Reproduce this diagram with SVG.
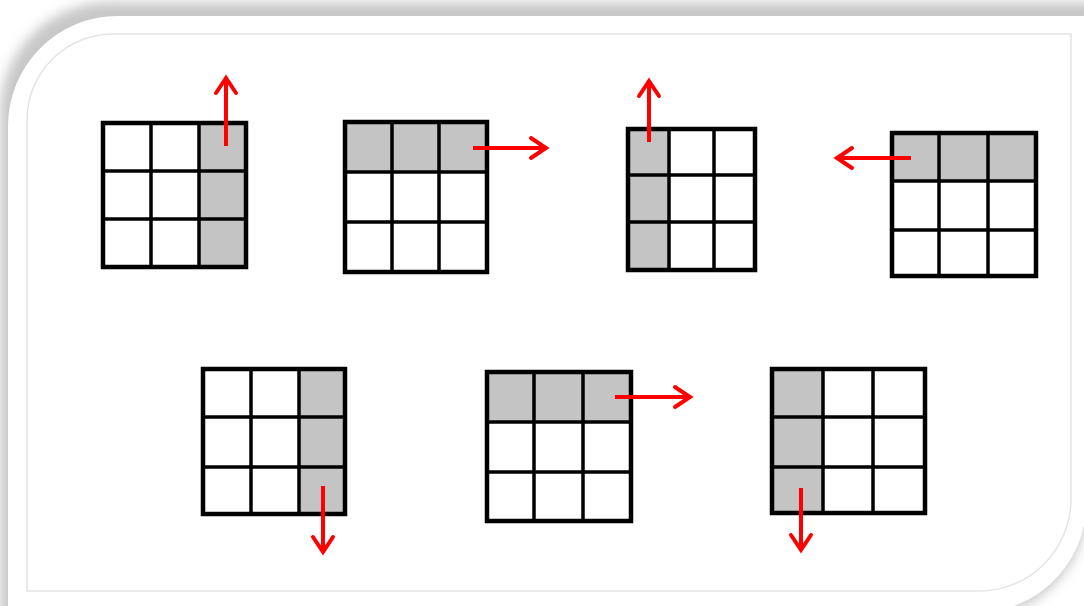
<svg xmlns="http://www.w3.org/2000/svg" width="1084" height="606" viewBox="0 0 1084 606">
  <defs>
    <filter id="blur" x="-10%" y="-10%" width="120%" height="120%">
      <feGaussianBlur stdDeviation="6"/>
    </filter>
    <marker id="head" markerUnits="userSpaceOnUse" markerWidth="30" markerHeight="30" viewBox="-20 -15 30 30" refX="0" refY="0" orient="auto">
      <path d="M -15,-10 L 0,0 L -15,10" fill="none" stroke="#ff0000" stroke-width="4" stroke-linejoin="miter" stroke-linecap="round"/>
    </marker>
  </defs>
  <style>
    .shade { fill: #c4c4c4; }
    .cell { fill: #ffffff; }
    .outer { fill: none; stroke: #000000; stroke-width: 4.5; }
    .inner { stroke: #000000; stroke-width: 3.5; }
    .arrow { fill: none; stroke: #ff0000; stroke-width: 4; marker-end: url(#head); }
  </style>

  <!-- background frame -->
  <g id="frame">
    <rect x="0" y="0" width="1084" height="606" fill="#ffffff"/>
    <path d="M 0,110 A 110 110 0 0 1 110,0 L 1120,0 L 1120,490 L 1084,527 A 110 110 0 0 1 1014,608 L 990,640 L 0,640 Z" transform="translate(0,2)" fill="#c8c8c8" filter="url(#blur)"/>
    <path d="M 8,126 A 110 110 0 0 1 118,16 L 1110,16 L 1110,490 L 1084,525 A 110 110 0 0 1 1014,606 L 1000,625 L 8,625 Z" fill="#ffffff"/>
    <path d="M 27,120 A 86 86 0 0 1 113,34 L 1071,34 L 1071,500 A 92 92 0 0 1 979,591 L 27,591 Z" fill="none" stroke="#e4e4e4" stroke-width="1.5"/>
  </g>

  <!-- Grid 1: right column shaded -->
  <g id="grid1">
    <rect x="103" y="123" width="143" height="144" class="cell"/>
    <rect x="199" y="123" width="47" height="144" class="shade"/>
    <line x1="151" y1="123" x2="151" y2="267" class="inner"/>
    <line x1="199" y1="123" x2="199" y2="267" class="inner"/>
    <line x1="103" y1="171" x2="246" y2="171" class="inner"/>
    <line x1="103" y1="219" x2="246" y2="219" class="inner"/>
    <rect x="103" y="123" width="143" height="144" class="outer"/>
  </g>

  <!-- Grid 2: top row shaded -->
  <g id="grid2">
    <rect x="345" y="122" width="142" height="150" class="cell"/>
    <rect x="345" y="122" width="142" height="50" class="shade"/>
    <line x1="392" y1="122" x2="392" y2="272" class="inner"/>
    <line x1="439" y1="122" x2="439" y2="272" class="inner"/>
    <line x1="345" y1="172" x2="487" y2="172" class="inner"/>
    <line x1="345" y1="222" x2="487" y2="222" class="inner"/>
    <rect x="345" y="122" width="142" height="150" class="outer"/>
  </g>

  <!-- Grid 3: left column shaded -->
  <g id="grid3">
    <rect x="628" y="129" width="127" height="141" class="cell"/>
    <rect x="628" y="129" width="41" height="141" class="shade"/>
    <line x1="669" y1="129" x2="669" y2="270" class="inner"/>
    <line x1="714" y1="129" x2="714" y2="270" class="inner"/>
    <line x1="628" y1="175" x2="755" y2="175" class="inner"/>
    <line x1="628" y1="222" x2="755" y2="222" class="inner"/>
    <rect x="628" y="129" width="127" height="141" class="outer"/>
  </g>

  <!-- Grid 4: top row shaded -->
  <g id="grid4">
    <rect x="892" y="133" width="144" height="143" class="cell"/>
    <rect x="892" y="133" width="144" height="48" class="shade"/>
    <line x1="939" y1="133" x2="939" y2="276" class="inner"/>
    <line x1="988" y1="133" x2="988" y2="276" class="inner"/>
    <line x1="892" y1="181" x2="1036" y2="181" class="inner"/>
    <line x1="892" y1="230" x2="1036" y2="230" class="inner"/>
    <rect x="892" y="133" width="144" height="143" class="outer"/>
  </g>

  <!-- Grid 5: right column shaded -->
  <g id="grid5">
    <rect x="203" y="369" width="142" height="145" class="cell"/>
    <rect x="299" y="369" width="46" height="145" class="shade"/>
    <line x1="251" y1="369" x2="251" y2="514" class="inner"/>
    <line x1="299" y1="369" x2="299" y2="514" class="inner"/>
    <line x1="203" y1="417" x2="345" y2="417" class="inner"/>
    <line x1="203" y1="467" x2="345" y2="467" class="inner"/>
    <rect x="203" y="369" width="142" height="145" class="outer"/>
  </g>

  <!-- Grid 6: top row shaded -->
  <g id="grid6">
    <rect x="487" y="372" width="144" height="149" class="cell"/>
    <rect x="487" y="372" width="144" height="50" class="shade"/>
    <line x1="534" y1="372" x2="534" y2="521" class="inner"/>
    <line x1="583" y1="372" x2="583" y2="521" class="inner"/>
    <line x1="487" y1="422" x2="631" y2="422" class="inner"/>
    <line x1="487" y1="472" x2="631" y2="472" class="inner"/>
    <rect x="487" y="372" width="144" height="149" class="outer"/>
  </g>

  <!-- Grid 7: left column shaded -->
  <g id="grid7">
    <rect x="772" y="369" width="153" height="144" class="cell"/>
    <rect x="772" y="369" width="51" height="144" class="shade"/>
    <line x1="823" y1="369" x2="823" y2="513" class="inner"/>
    <line x1="873" y1="369" x2="873" y2="513" class="inner"/>
    <line x1="772" y1="417" x2="925" y2="417" class="inner"/>
    <line x1="772" y1="467" x2="925" y2="467" class="inner"/>
    <rect x="772" y="369" width="153" height="144" class="outer"/>
  </g>

  <!-- arrows -->
  <g id="connectors">
    <line x1="226" y1="146" x2="226" y2="78" class="arrow"/>
    <line x1="473" y1="148" x2="546" y2="148" class="arrow"/>
    <line x1="649" y1="142" x2="649" y2="81" class="arrow"/>
    <line x1="911" y1="158" x2="837" y2="158" class="arrow"/>
    <line x1="323" y1="486" x2="323" y2="552" class="arrow"/>
    <line x1="615" y1="397" x2="690" y2="397" class="arrow"/>
    <line x1="801" y1="488" x2="801" y2="550" class="arrow"/>
  </g>
</svg>
